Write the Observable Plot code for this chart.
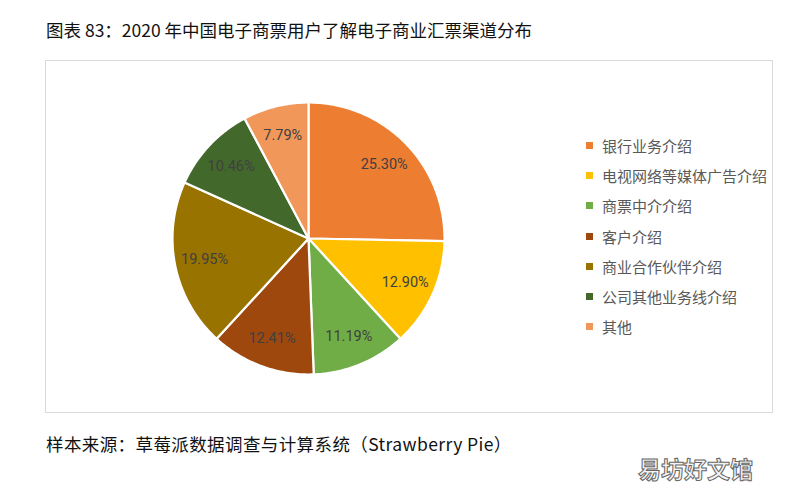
<!DOCTYPE html>
<html><head><meta charset="utf-8">
<script src="https://cdn.jsdelivr.net/npm/d3@7"></script>
<script src="https://cdn.jsdelivr.net/npm/@observablehq/plot@0.6"></script>
<style>
body{margin:0;background:#fff;font-family:"Noto Sans CJK SC","Noto Sans",sans-serif;}
#wrap{position:relative;width:792px;height:500px;}
#title{position:absolute;left:46px;top:17px;font-size:17.5px;color:#111;letter-spacing:0px;}
#box{position:absolute;left:45px;top:60px;width:726px;height:351px;border:1px solid #d9d9d9;}
#chart{position:absolute;left:0;top:0;}
#legend{position:absolute;left:540px;top:69px;font-size:15px;color:#595959;}
.li{height:30.3px;display:flex;align-items:center;}
.sw{width:7px;height:7px;margin-right:9px;}
#caption{position:absolute;left:46px;top:431px;font-size:17.5px;color:#111;letter-spacing:0.4px;}
#wm{position:absolute;left:638px;top:451px;font-size:23px;color:#f4f4f4;-webkit-text-stroke:1px #666;font-weight:bold;}
</style></head>
<body><div id="wrap">
<div id="title">图表 83：2020 年中国电子商票用户了解电子商业汇票渠道分布</div>
<div id="box"><div id="chart"></div><div id="legend"></div></div>
<div id="caption">样本来源：草莓派数据调查与计算系统（Strawberry Pie）</div>
<div id="wm">易坊好文馆</div>
</div>
<script>
const categories = ["银行业务介绍","电视网络等媒体广告介绍","商票中介介绍","客户介绍","商业合作伙伴介绍","公司其他业务线介绍","其他"];
const values = [25.30, 12.90, 11.19, 12.41, 19.95, 10.46, 7.79];
const labels = ["25.30%","12.90%","11.19%","12.41%","19.95%","10.46%","7.79%"];
const colors = ["#ED7D31","#FFC000","#70AD47","#9E480E","#997300","#43682B","#F1975A"];

const pie = d3.pie().sort(null).value(d => d)(values);
const slices = [];
const labelPts = [];
pie.forEach((p, i) => {
  slices.push({c: categories[i], x: 0, y: 0});
  const n = Math.max(4, Math.ceil((p.endAngle - p.startAngle) * 60));
  for (let k = 0; k <= n; k++) {
    const a = p.startAngle + (p.endAngle - p.startAngle) * k / n;
    slices.push({c: categories[i], x: Math.sin(a), y: Math.cos(a)});
  }
  slices.push({c: categories[i], x: 0, y: 0});
  const m = (p.startAngle + p.endAngle) / 2;
  labelPts.push({t: labels[i], x: 0.78 * Math.sin(m), y: 0.78 * Math.cos(m)});
});

const plot = Plot.plot({
  width: 726, height: 351,
  margin: 0,
  x: {domain: [-1, 1], range: [126, 398], axis: null},
  y: {domain: [-1, 1], range: [313, 41], axis: null},
  color: {domain: categories, range: colors},
  style: {background: "transparent"},
  marks: [
    Plot.line(slices, {x: "x", y: "y", z: "c", fill: "c", stroke: "white", strokeWidth: 2.2, curve: "linear", strokeLinejoin: "round"}),
    Plot.text(labelPts, {x: "x", y: "y", text: "t", fill: "#404040", fontSize: 14.5, fontFamily: "Roboto, 'Noto Sans', sans-serif"})
  ]
});
document.getElementById("chart").appendChild(plot);

const lg = document.getElementById("legend");
categories.forEach((c, i) => {
  const d = document.createElement("div");
  d.className = "li";
  d.innerHTML = `<span class="sw" style="background:${colors[i]}"></span><span>${c}</span>`;
  lg.appendChild(d);
});
</script>
</body></html>
